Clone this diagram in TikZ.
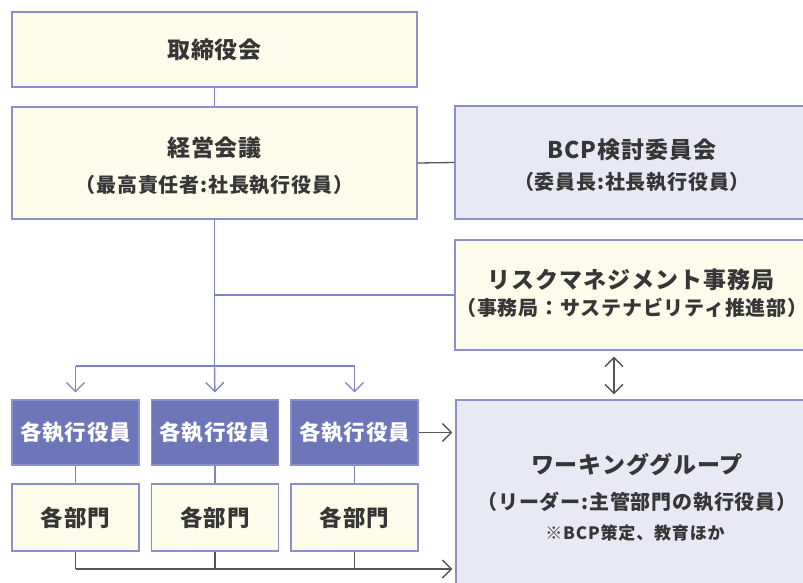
\documentclass[tikz,border=0pt]{standalone}
\usepackage{fontspec}
\setmainfont{Noto Sans CJK JP}
\usetikzlibrary{arrows.meta}
\definecolor{cream}{HTML}{FDFBEA}
\definecolor{boxc}{HTML}{8B90CC}
\definecolor{lav}{HTML}{E9E9F5}
\definecolor{execc}{HTML}{6D76B8}
\definecolor{blc}{HTML}{7D83C4}
\definecolor{gyc}{HTML}{555555}
\definecolor{txt}{HTML}{363636}
\newcommand\ttlf{\fontsize{23}{26}\selectfont\bfseries\addfontfeature{LetterSpace=4}}
\newcommand\subf{\fontsize{20}{22}\selectfont\bfseries\addfontfeature{LetterSpace=4}}
\newcommand\smlf{\fontsize{17}{18}\selectfont\bfseries\addfontfeature{LetterSpace=5}}
\newcommand\exef{\fontsize{21.5}{26}\selectfont\bfseries\addfontfeature{LetterSpace=4}}
\newcommand\depf{\fontsize{22.5}{26}\selectfont\bfseries\addfontfeature{LetterSpace=4}}
\tikzset{
  box/.style={draw=boxc, line width=1.4pt, fill=cream, inner sep=0pt},
  lbox/.style={box, fill=lav},
  ebox/.style={draw=boxc, line width=1.2pt, fill=execc, text=white, inner sep=0pt, minimum width=127, minimum height=65},
  dbox/.style={box, text=txt, minimum width=127, minimum height=67},
  tt/.style={text=txt, inner sep=0pt, anchor=center},
  bl/.style={draw=blc, line width=1.4pt},
  gy/.style={draw=gyc, line width=1.3pt},
  arr/.style={-{Straight Barb[length=9pt,width=18pt,line width=1.3pt]}},
  darr/.style={{Straight Barb[length=9pt,width=18pt,line width=1.3pt]}-{Straight Barb[length=9pt,width=18pt,line width=1.3pt]}}
}
\begin{document}
\begin{tikzpicture}[x=1pt,y=-1pt]
\useasboundingbox (0,0) rectangle (803,582);
\clip (0,0) rectangle (803,582);
\fill[white] (0,0) rectangle (803,582);
% boxes
\node[box, minimum width=405, minimum height=75] (board) at (214.5,49.5) {};
\node[box, minimum width=405, minimum height=112] (mgmt) at (214.5,163) {};
\node[lbox, minimum width=353, minimum height=113] (bcp) at (631.5,162.5) {};
\node[box, minimum width=353, minimum height=110] (risk) at (631.5,295) {};
\node[lbox, minimum width=352, minimum height=200] (wg) at (632,500) {};
\node[ebox] (e1) at (75.5,432.5) {\exef 各執行役員};
\node[ebox] (e2) at (215,432.5) {\exef 各執行役員};
\node[ebox] (e3) at (354.5,432.5) {\exef 各執行役員};
\node[dbox] (d1) at (75.5,517.5) {\depf 各部門};
\node[dbox] (d2) at (215,517.5) {\depf 各部門};
\node[dbox] (d3) at (354.5,517.5) {\depf 各部門};
% texts
\node[tt] (board-t) at (214.5,50) {\ttlf 取締役会};
\node[tt] (mgmt-t) at (214.5,148) {\ttlf 経営会議};
\node[tt] (mgmt-s) at (214.5,185) {\subf （最高責任者:社長執行役員）};
\node[tt] (bcp-t) at (632,150) {\ttlf BCP検討委員会};
\node[tt] (bcp-s) at (632,182) {\subf （委員長:社長執行役員）};
\node[tt] (risk-t) at (631,280) {\ttlf リスクマネジメント事務局};
\node[tt] (risk-s) at (632,308) {\subf （事務局：サステナビリティ推進部）};
\node[tt] (wg-t) at (637,465) {\ttlf ワーキンググループ};
\node[tt] (wg-s) at (637,502) {\subf （リーダー:主管部門の執行役員）};
\node[tt] (wg-n) at (635,533) {\smlf ※BCP策定、教育ほか};
% helper coordinates
\coordinate (hub) at (214.5,366);
\coordinate (bot) at (0,569);
\coordinate (dx) at (614,0);
% connectors
\draw[bl] (board.south) -- (mgmt.north);
\draw[gy] (mgmt.east) -- (bcp.west);
\draw[bl] (mgmt.south) -- (hub);
\draw[bl] (mgmt.south |- risk.west) -- (risk.west);
\draw[bl] (e1.north |- hub) -- (e3.north |- hub);
\draw[bl,arr,shorten >=7pt] (e1.north |- hub) -- (e1.north);
\draw[bl,arr,shorten >=7pt] (hub) -- (e2.north);
\draw[bl,arr,shorten >=7pt] (e3.north |- hub) -- (e3.north);
\draw[bl] (e1.south) -- (d1.north);
\draw[bl] (e2.south) -- (d2.north);
\draw[bl] (e3.south) -- (d3.north);
\draw[gy] (d1.south) -- (d1.south |- bot);
\draw[gy] (d2.south) -- (d2.south |- bot);
\draw[gy] (d3.south) -- (d3.south |- bot);
\draw[gy,arr,shorten >=3pt] (d1.south |- bot) -- (wg.west |- bot);
\draw[gy,arr,shorten >=3pt] (e3.east) -- (e3.east -| wg.west);
\draw[gy,darr,shorten <=6pt,shorten >=5pt] (risk.south -| dx) -- (wg.north -| dx);
\end{tikzpicture}
\end{document}
